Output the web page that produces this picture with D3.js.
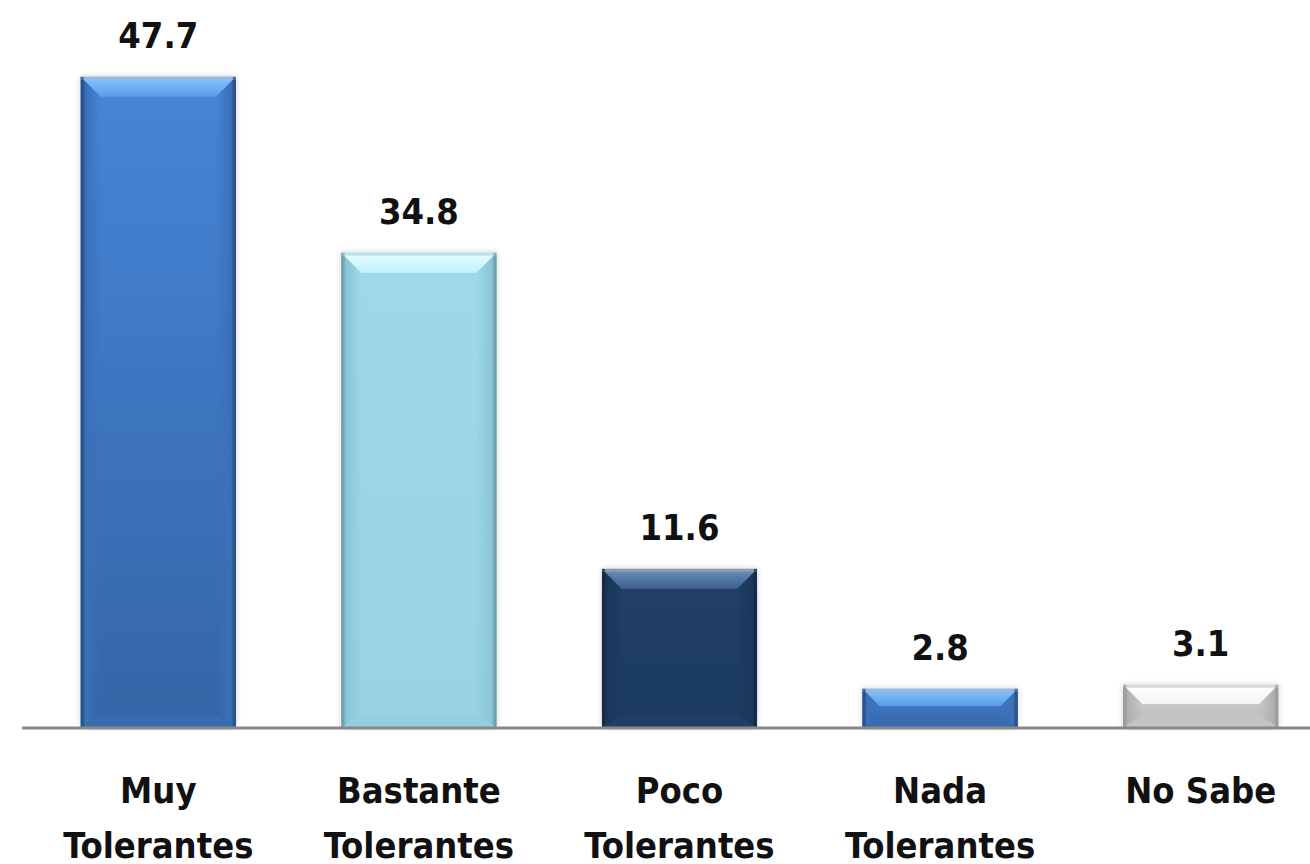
<!DOCTYPE html>
<html><head><meta charset="utf-8">
<script src="https://cdn.jsdelivr.net/npm/d3@7"></script>
<style>html,body{margin:0;padding:0;background:#fff;overflow:hidden}</style>
</head><body>
<svg id="c" width="1310" height="864"></svg>
<script>
const categories = ["Muy\nTolerantes", "Bastante\nTolerantes", "Poco\nTolerantes", "Nada\nTolerantes", "No Sabe"];
const values = [47.7, 34.8, 11.6, 2.8, 3.1];
const labels = ["47.7", "34.8", "11.6", "2.8", "3.1"];

const palettes = [
  {rim:"#9db6da", bevT:"#86c6ff", bevB:"#5d9be6", bodyT:"#4686d8", bodyB:"#3465a6", side:"#3a70b8", edge:"#2b4f85", bot:"#3a6fb0"},
  {rim:"#bde0ea", bevT:"#e6ffff", bevB:"#c2f0fa", bodyT:"#9fd9e9", bodyB:"#98d2e3", side:"#8ac6d6", edge:"#6e9eab", bot:"#94cddd"},
  {rim:"#8a9bb0", bevT:"#6a90c2", bevB:"#3d5f8a", bodyT:"#213f68", bodyB:"#1e3b62", side:"#1b3659", edge:"#142a46", bot:"#233f66"},
  {rim:"#9db6da", bevT:"#86c6ff", bevB:"#5d9be6", bodyT:"#4686d8", bodyB:"#3465a6", side:"#3a70b8", edge:"#2b4f85", bot:"#3a6fb0"},
  {rim:"#d8d8d8", bevT:"#ffffff", bevB:"#f4f4f4", bodyT:"#cfcfcf", bodyB:"#bdbdbd", side:"#b0b0b0", edge:"#9a9a9a", bot:"#c4c4c4"}
];

const svg = d3.select("#c");
const x = d3.scaleBand().domain(d3.range(values.length)).range([28, 1331]).paddingInner(0.405).paddingOuter(0.2025);
const y = d3.scaleLinear().domain([0, 50]).range([727, 45.5]);

const defs = svg.append("defs");
const f = defs.append("filter").attr("id","sh").attr("x","-20%").attr("y","-20%").attr("width","140%").attr("height","140%");
f.append("feGaussianBlur").attr("in","SourceAlpha").attr("stdDeviation",3).attr("result","b");
f.append("feOffset").attr("in","b").attr("dx",0).attr("dy",0).attr("result","o");
f.append("feComponentTransfer").attr("in","o").attr("result","s").append("feFuncA").attr("type","linear").attr("slope",0.18);
const m = f.append("feMerge"); m.append("feMergeNode").attr("in","s"); m.append("feMergeNode").attr("in","SourceGraphic");

palettes.forEach((p,i)=>{
  const g1 = defs.append("linearGradient").attr("id","body"+i).attr("x1",0).attr("y1",0).attr("x2",0).attr("y2",1);
  g1.append("stop").attr("offset","0%").attr("stop-color",p.bodyT);
  g1.append("stop").attr("offset","100%").attr("stop-color",p.bodyB);
  const g2 = defs.append("linearGradient").attr("id","bev"+i).attr("x1",0).attr("y1",0).attr("x2",0).attr("y2",1);
  g2.append("stop").attr("offset","0%").attr("stop-color",p.bevT);
  g2.append("stop").attr("offset","100%").attr("stop-color",p.bevB);
  const g3 = defs.append("linearGradient").attr("id","sideL"+i).attr("x1",0).attr("y1",0).attr("x2",1).attr("y2",0);
  g3.append("stop").attr("offset","0%").attr("stop-color",p.edge);
  g3.append("stop").attr("offset","25%").attr("stop-color",p.side);
  g3.append("stop").attr("offset","100%").attr("stop-color",p.side).attr("stop-opacity",0);
  const g4 = defs.append("linearGradient").attr("id","sideR"+i).attr("x1",1).attr("y1",0).attr("x2",0).attr("y2",0);
  g4.append("stop").attr("offset","0%").attr("stop-color",p.edge);
  g4.append("stop").attr("offset","25%").attr("stop-color",p.side);
  g4.append("stop").attr("offset","100%").attr("stop-color",p.side).attr("stop-opacity",0);
});

const bars = svg.append("g").selectAll("g").data(values).join("g").attr("filter","url(#sh)");
bars.each(function(v,i){
  const g = d3.select(this);
  const x0 = x(i), w = x.bandwidth(), y0 = y(v), h = y(0) - y(v);
  const b = Math.min(20, h/2.2);
  g.append("rect").attr("x",x0).attr("y",y0).attr("width",w).attr("height",h).attr("fill",`url(#body${i})`);
  g.append("polygon").attr("points",[[x0,y0+h],[x0+w,y0+h],[x0+w-b,y0+h-b*0.6],[x0+b,y0+h-b*0.6]].join(" ")).attr("fill",palettes[i].bot).attr("opacity",0.7);
  g.append("polygon").attr("points",[[x0,y0],[x0+b,y0+b],[x0+b,y0+h-b*0.6],[x0,y0+h]].join(" ")).attr("fill",`url(#sideL${i})`);
  g.append("polygon").attr("points",[[x0+w,y0],[x0+w-b,y0+b],[x0+w-b,y0+h-b*0.6],[x0+w,y0+h]].join(" ")).attr("fill",`url(#sideR${i})`);
  g.append("polygon").attr("points",[[x0,y0],[x0+w,y0],[x0+w-b,y0+b],[x0+b,y0+b]].join(" ")).attr("fill",`url(#bev${i})`);
  g.append("rect").attr("x",x0).attr("y",y0).attr("width",w).attr("height",3).attr("fill",palettes[i].rim);
  g.append("rect").attr("x",x0).attr("y",y0).attr("width",3).attr("height",h).attr("fill",palettes[i].edge).attr("opacity",0.7);
  g.append("rect").attr("x",x0+w-3).attr("y",y0).attr("width",3).attr("height",h).attr("fill",palettes[i].edge).attr("opacity",0.7);
});

svg.append("line").attr("x1",22).attr("x2",1310).attr("y1",y(0)+1).attr("y2",y(0)+1).attr("stroke","#888").attr("stroke-width",3);

const font = "'DejaVu Sans Condensed', 'DejaVu Sans', sans-serif";
svg.append("g").selectAll("text").data(values).join("text")
  .attr("x",(d,i)=>x(i)+x.bandwidth()/2).attr("y",d=>y(d)-29)
  .attr("text-anchor","middle").attr("font-family",font).attr("font-weight","bold")
  .attr("font-size",36).attr("fill","#111").text((d,i)=>labels[i]);

const cat = svg.append("g").selectAll("text").data(categories).join("text")
  .attr("x",(d,i)=>x(i)+x.bandwidth()/2).attr("y",803)
  .attr("text-anchor","middle").attr("font-family",font).attr("font-weight","bold")
  .attr("font-size",36).attr("fill","#111");
cat.each(function(d,i){
  const t = d3.select(this);
  d.split("\n").forEach((ln,k)=>{
    t.append("tspan").attr("x",x(i)+x.bandwidth()/2).attr("dy",k===0?0:55).text(ln);
  });
});
</script>
</body></html>
